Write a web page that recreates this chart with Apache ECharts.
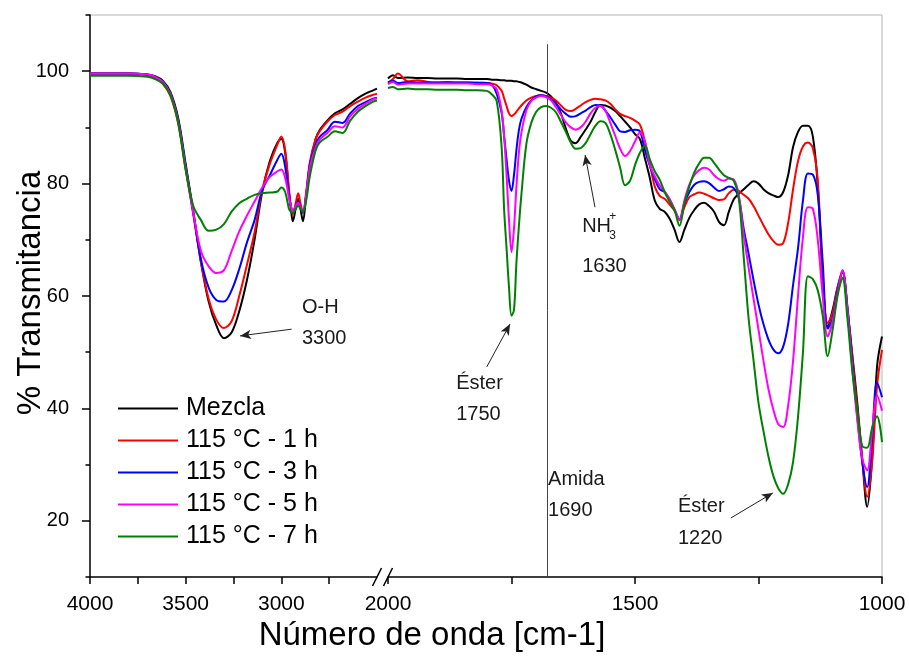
<!DOCTYPE html>
<html><head><meta charset="utf-8">
<script src="https://cdn.jsdelivr.net/npm/echarts@6/dist/echarts.min.js"></script>
<style>html,body{margin:0;padding:0;background:#fff}#c{width:909px;height:656px}</style>
</head><body><div id="c"></div>
<script>
// ---- data ----
const seriesNames = ['Mezcla', '115 °C - 1 h', '115 °C - 3 h', '115 °C - 5 h', '115 °C - 7 h'];
const seriesColors = ['#000000', '#ff0000', '#0000ff', '#ff00ff', '#008000'];

// left panel (4000 - 2500 cm-1)
const wnLeft = [4000,3900,3800,3700,3660,3620,3580,3540,3500,3460,3420,3380,3340,3300,3260,3220,3180,3140,3100,3060,3020,3000,2980,2960,2950,2940,2925,2912,2900,2887,2870,2850,2820,2800,2760,2720,2680,2640,2600,2560,2520,2500];
const mezclaLeft = [99.6,99.6,99.6,99.4,99.1,98.3,96.3,91.8,83.5,75.0,66.0,59.0,54.8,52.5,53.5,57.3,62.8,70.0,78.5,84.0,87.3,88.0,85.5,78.5,75.5,73.3,75.5,77.3,75.5,73.3,78.0,83.5,88.0,89.5,91.2,92.5,93.2,94.2,95.2,96.0,96.6,96.9];
const h1Left = [99.6,99.6,99.6,99.3,98.8,97.8,95.6,90.8,82.5,74.5,66.0,59.5,55.8,54.3,55.5,60.0,65.5,71.3,78.8,83.5,87.0,88.4,86.0,79.0,76.0,74.5,76.5,78.3,76.5,74.8,78.5,84.0,88.0,89.3,91.0,92.2,92.8,93.8,94.6,95.3,95.8,96.0];
const h3Left = [99.6,99.6,99.6,99.4,99.0,98.1,96.0,91.4,83.0,74.8,66.5,61.5,59.3,59.0,61.0,64.8,69.5,73.5,78.8,81.5,84.3,85.3,83.0,78.0,76.0,74.8,76.0,76.8,75.8,74.8,78.0,83.5,87.0,88.3,89.5,91.0,90.8,92.5,93.8,94.5,95.1,95.3];
const h5Left = [99.6,99.6,99.6,99.4,99.0,98.1,96.0,91.2,82.8,74.8,68.0,65.3,64.1,64.6,68.0,71.5,74.3,76.8,79.3,81.2,82.2,82.5,81.0,77.5,76.0,75.0,76.0,76.6,75.8,75.0,78.0,83.0,86.5,87.8,89.0,90.2,90.0,92.0,93.3,94.2,95.0,95.2];
const h7Left = [99.2,99.2,99.2,99.0,98.6,97.8,95.8,91.0,82.5,76.0,73.5,71.6,71.8,72.8,75.0,76.5,77.3,78.0,78.3,78.4,78.6,79.3,78.5,75.5,75.0,74.8,75.5,76.1,75.5,75.0,77.0,81.5,86.0,87.3,88.3,89.3,89.0,91.2,92.8,93.8,94.6,94.8];

// right panel (2000 - 1000 cm-1)
const wnRight = [2000,1990,1980,1960,1940,1920,1900,1880,1860,1840,1820,1800,1790,1780,1770,1765,1760,1755,1750,1745,1740,1735,1730,1720,1710,1700,1690,1680,1670,1660,1650,1640,1630,1620,1610,1600,1590,1580,1570,1560,1550,1540,1530,1520,1510,1500,1490,1480,1470,1460,1450,1440,1430,1420,1410,1400,1390,1380,1370,1360,1350,1340,1330,1320,1310,1300,1290,1280,1270,1260,1250,1240,1230,1220,1210,1200,1190,1180,1170,1160,1150,1140,1130,1120,1110,1100,1090,1080,1070,1060,1050,1040,1030,1020,1010,1000];
const mezclaRight = [98.7,99.3,98.8,98.9,98.8,98.8,98.7,98.7,98.7,98.6,98.6,98.6,98.5,98.5,98.4,98.4,98.3,98.3,98.3,98.2,98.2,98.1,98.0,97.6,97.1,96.8,96.5,96.2,95.5,94.4,92.5,89.8,87.6,87.2,88.3,89.6,91.0,92.8,94.0,93.9,93.5,92.9,92.0,91.0,90.0,88.8,87.9,84.5,81.0,77.0,75.5,75.0,73.8,71.8,69.6,71.8,73.9,75.3,76.3,76.6,76.0,75.0,73.2,72.6,75.0,77.2,78.2,79.0,79.8,80.4,80.0,79.0,78.3,77.9,77.6,78.5,81.5,86.5,89.2,90.3,90.3,88.4,79.5,63.5,54.6,57.5,61.5,64.2,57.5,49.5,41.0,31.0,22.5,31.0,47.5,52.8];
const h1Right = [97.9,98.6,99.6,98.2,98.4,98.1,98.0,98.1,98.0,98.0,98.0,97.9,97.8,97.5,96.5,95.2,93.8,92.5,92.0,92.3,92.8,93.4,93.9,94.8,95.3,95.6,95.7,95.6,95.3,94.8,93.9,93.1,92.9,93.3,93.9,94.5,94.9,95.1,95.0,94.8,94.2,93.2,92.4,92.0,91.7,91.2,90.5,87.5,83.5,79.5,77.8,77.3,76.3,75.2,73.5,75.8,77.6,78.1,78.4,78.2,77.8,77.4,77.1,77.2,78.3,78.9,78.7,78.0,77.3,76.0,74.3,72.6,71.0,69.8,69.1,69.4,73.0,79.0,84.0,86.6,87.3,86.3,80.5,63.0,55.2,57.0,61.5,64.6,58.0,49.0,40.0,31.0,24.3,30.5,44.0,50.4];
const h3Right = [98.0,98.3,97.9,98.1,98.0,98.0,98.0,98.0,98.0,98.0,97.9,97.9,97.6,96.0,92.6,88.5,84.3,80.5,78.7,81.5,86.0,89.5,91.5,93.6,94.8,95.5,95.7,95.5,95.0,94.2,93.2,92.4,91.9,92.0,92.5,93.0,93.6,94.0,93.9,93.0,91.8,90.5,89.3,89.2,89.5,89.6,89.3,86.0,83.2,80.8,79.0,78.5,77.2,75.3,73.7,76.5,78.5,79.8,80.3,80.4,80.1,79.3,78.7,79.0,79.5,79.2,77.5,72.0,67.5,62.8,58.5,55.0,52.3,50.5,49.8,51.0,55.0,62.0,68.5,77.0,81.8,81.6,78.0,66.0,54.2,56.0,61.0,64.3,58.0,48.0,38.5,30.5,26.0,35.0,44.6,42.0];
const h5Right = [97.7,98.1,97.6,97.8,97.8,97.8,97.8,97.8,97.8,97.8,97.7,97.7,97.5,96.8,93.0,88.5,81.5,73.5,67.8,72.0,79.5,85.5,89.0,93.0,94.7,95.3,95.6,95.4,94.8,93.6,92.2,90.9,90.0,89.6,90.0,91.0,92.5,93.5,93.8,93.0,90.8,88.5,86.2,84.9,85.8,87.5,89.1,87.5,83.3,81.3,79.7,78.6,77.2,75.5,73.6,77.0,79.8,81.5,82.4,82.8,82.5,81.5,80.8,80.5,80.9,80.7,78.0,71.0,65.0,59.5,54.0,48.5,43.5,39.8,37.2,36.7,40.5,48.5,60.0,70.5,75.8,75.5,70.0,60.0,52.8,55.5,60.5,64.5,57.5,47.0,38.0,31.0,29.0,36.0,42.3,39.6];
const h7Right = [97.0,97.2,96.8,96.9,96.8,96.8,96.7,96.7,96.7,96.6,96.6,96.5,95.9,94.7,86.5,75.5,68.5,61.5,56.5,57.5,66.0,72.5,78.0,87.0,90.8,92.8,93.6,93.8,93.5,92.7,91.0,89.2,87.3,86.2,86.3,87.2,88.8,90.3,91.1,90.8,88.8,86.0,82.8,79.7,80.5,83.3,85.5,86.8,84.3,82.2,80.7,78.5,76.8,75.3,72.5,76.5,79.5,82.0,83.6,84.6,84.6,83.7,82.5,81.5,81.0,80.5,77.5,67.0,56.0,48.5,41.0,36.0,31.5,28.0,25.8,24.8,26.5,30.5,38.5,50.0,63.5,63.0,61.0,56.5,49.3,54.0,60.0,63.2,56.0,46.5,39.5,33.3,33.0,36.5,38.6,34.0];

const leftValues = [mezclaLeft, h1Left, h3Left, h5Left, h7Left];
const rightValues = [mezclaRight, h1Right, h3Right, h5Right, h7Right];

// axis ticks / labels
const yLabelValues = [20, 40, 60, 80, 100];
const yMinorValues = [10, 30, 50, 70, 90, 110];
const xLeftLabels = [4000, 3500, 3000];
const xLeftTicks = [4000, 3750, 3500, 3250, 3000, 2750];
const xRightLabels = [2000, 1500, 1000];
const xRightTicks = [2000, 1750, 1500, 1250, 1000];

// annotations (data coordinates)
const amidaLine = [1678, 10, 104.8];
const arrows = [
  {grid: 0, from: [2946, 54.1], to: [3216, 52.9]},
  {grid: 1, from: [1800, 47.4], to: [1753, 55.0]},
  {grid: 1, from: [1581, 75.8], to: [1601, 85.1]},
  {grid: 1, from: [1306, 20.5], to: [1221, 24.95]}
];
const notes = [
  {grid: 0, at: [2892, 57.95], text: 'O-H'},
  {grid: 0, at: [2892, 52.5], text: '3300'},
  {grid: 1, at: [1862, 44.5], text: 'Éster'},
  {grid: 1, at: [1862, 39.0], text: '1750'},
  {grid: 1, at: [1607, 65.2], text: '1630'},
  {grid: 1, at: [1676, 27.4], text: 'Amida'},
  {grid: 1, at: [1676, 21.9], text: '1690'},
  {grid: 1, at: [1413, 22.6], text: 'Éster'},
  {grid: 1, at: [1413, 16.9], text: '1220'}
];
const nh3Note = {grid: 1, at: [1607, 72.3]};

// ---- chart ----
const FONT = '"Liberation Sans", Arial, sans-serif';
const chart = echarts.init(document.getElementById('c'), null, {renderer: 'canvas'});

const series = [];
seriesNames.forEach((name, k) => {
  series.push({
    name, type: 'line', xAxisIndex: 0, yAxisIndex: 0,
    data: wnLeft.map((w, i) => [w, leftValues[k][i]]),
    showSymbol: false, smooth: 0.35, color: seriesColors[k],
    lineStyle: {width: 2, color: seriesColors[k]}, animation: false, z: 3 + k
  });
});
seriesNames.forEach((name, k) => {
  series.push({
    name, type: 'line', xAxisIndex: 1, yAxisIndex: 2,
    data: wnRight.map((w, i) => [w, rightValues[k][i]]),
    showSymbol: false, smooth: 0.35, color: seriesColors[k],
    lineStyle: {width: 2, color: seriesColors[k]}, animation: false, z: 3 + k
  });
});
// annotation series (arrows + Amida line)
[0, 1].forEach(g => {
  const arrowData = arrows.filter(a => a.grid === g).map(a => [{coord: a.from, symbol: 'none'}, {coord: a.to, symbol: 'arrow'}]);
  if (g === 1) arrowData.push([{coord: [amidaLine[0], amidaLine[1]], symbol: 'none', lineStyle: {color: '#444', width: 1}}, {coord: [amidaLine[0], amidaLine[2]], symbol: 'none'}]);
  series.push({
    type: 'line', xAxisIndex: g, yAxisIndex: g === 0 ? 0 : 2, data: [], animation: false, silent: true,
    markLine: {silent: true, animation: false, symbolSize: [7, 11], label: {show: false},
      lineStyle: {color: '#222', width: 1, type: 'solid'}, emphasis: {disabled: true}, data: arrowData}
  });
});

const axisLineStyle = {lineStyle: {color: '#000', width: 1.5}};
const plainNum = v => String(v);
const option = {
  animation: false,
  backgroundColor: '#fff',
  grid: [
    {left: 90, top: 15, width: 287, height: 562},
    {left: 388, top: 15, width: 494, height: 562}
  ],
  xAxis: [
    {gridIndex: 0, type: 'value', min: 2500, max: 4000, inverse: true,
      axisLine: {show: true, onZero: false, ...axisLineStyle},
      axisTick: {show: true, inside: false, length: 7, customValues: xLeftTicks, lineStyle: {color: '#000', width: 1.5}},
      axisLabel: {customValues: xLeftLabels, formatter: plainNum, margin: 17, fontSize: 21, color: '#000', fontFamily: FONT},
      splitLine: {show: false}},
    {gridIndex: 1, type: 'value', min: 1000, max: 2000, inverse: true,
      axisLine: {show: true, onZero: false, ...axisLineStyle},
      axisTick: {show: true, inside: false, length: 7, customValues: xRightTicks, lineStyle: {color: '#000', width: 1.5}},
      axisLabel: {customValues: xRightLabels, formatter: plainNum, margin: 17, fontSize: 21, color: '#000', fontFamily: FONT},
      splitLine: {show: false}}
  ],
  yAxis: [
    {gridIndex: 0, type: 'value', min: 10, max: 110, position: 'left',
      axisLine: {show: true, onZero: false, ...axisLineStyle},
      axisTick: {show: true, length: 8, customValues: yLabelValues, lineStyle: {color: '#000', width: 1.5}},
      axisLabel: {customValues: yLabelValues, formatter: plainNum, margin: 21, fontSize: 20, color: '#000', fontFamily: FONT},
      splitLine: {show: false}},
    {gridIndex: 0, type: 'value', min: 10, max: 110, position: 'left', offset: 0,
      axisLine: {show: false},
      axisTick: {show: true, length: 4.5, customValues: yMinorValues, lineStyle: {color: '#000', width: 1.5}},
      axisLabel: {show: false}, splitLine: {show: false}},
    {gridIndex: 1, type: 'value', min: 10, max: 110, show: false, splitLine: {show: false}}
  ],
  legend: {
    data: seriesNames, orient: 'vertical', left: 118, top: 396, padding: 0,
    icon: 'rect', itemWidth: 60, itemHeight: 2, itemGap: 7,
    selectedMode: false,
    textStyle: {fontSize: 25, lineHeight: 25, color: '#000', fontFamily: FONT, padding: [0, 0, 0, 3]}
  },
  series,
  graphic: [
    {type: 'polyline', silent: true, shape: {points: [[90, 15], [882, 15], [882, 577]]}, style: {stroke: '#b4b4b4', lineWidth: 1, fill: null}},
    {type: 'line', silent: true, shape: {x1: 372.5, y1: 586, x2: 381.5, y2: 568}, style: {stroke: '#000', lineWidth: 1.5}},
    {type: 'line', silent: true, shape: {x1: 383.5, y1: 586, x2: 392.5, y2: 568}, style: {stroke: '#000', lineWidth: 1.5}},
    {type: 'text', silent: true, x: 432, y: 636, style: {text: 'Número de onda [cm-1]', font: '33px ' + FONT, fill: '#000', align: 'center', verticalAlign: 'middle'}},
    {type: 'text', silent: true, x: 31, y: 293, rotation: Math.PI / 2, style: {text: '% Transmitancia', font: '33px ' + FONT, fill: '#000', align: 'center', verticalAlign: 'middle'}}
  ]
};
chart.setOption(option);

// text annotations positioned from data coordinates
const extra = [];
notes.forEach(n => {
  const p = chart.convertToPixel({gridIndex: n.grid}, n.at);
  extra.push({type: 'text', silent: true, x: p[0], y: p[1], style: {text: n.text, font: '20px ' + FONT, fill: '#1a1a1a', align: 'left', verticalAlign: 'middle'}});
});
const q = chart.convertToPixel({gridIndex: nh3Note.grid}, nh3Note.at);
extra.push({type: 'text', silent: true, x: q[0], y: q[1], style: {text: 'NH', font: '20px ' + FONT, fill: '#1a1a1a', align: 'left', verticalAlign: 'middle'}});
extra.push({type: 'text', silent: true, x: q[0] + 27, y: q[1] + 9, style: {text: '3', font: '12px ' + FONT, fill: '#1a1a1a', align: 'left', verticalAlign: 'middle'}});
extra.push({type: 'text', silent: true, x: q[0] + 27, y: q[1] - 10, style: {text: '+', font: '12px ' + FONT, fill: '#1a1a1a', align: 'left', verticalAlign: 'middle'}});
chart.setOption({graphic: option.graphic.concat(extra)});
</script>
</body></html>
